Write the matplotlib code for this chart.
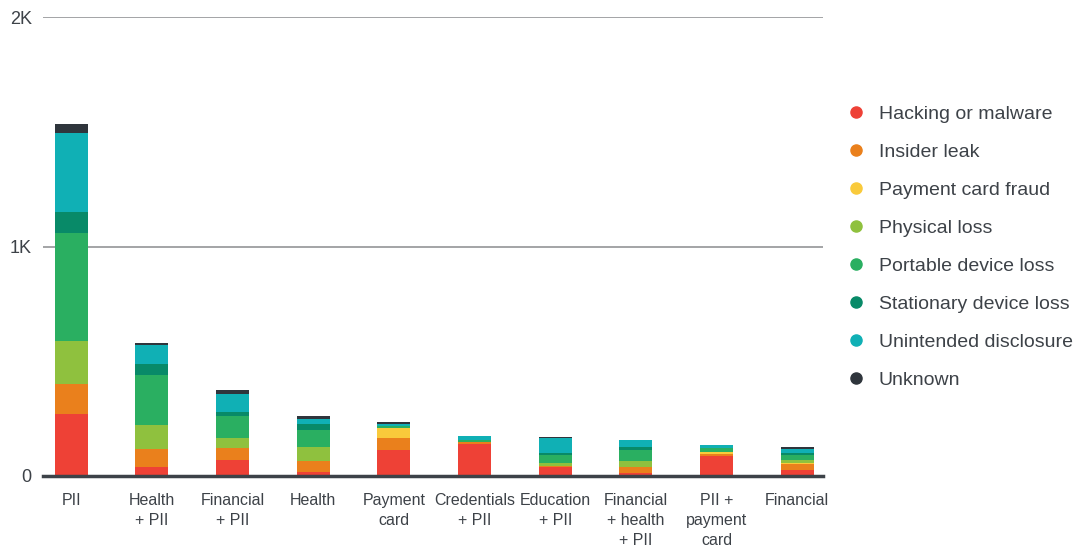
import matplotlib.pyplot as plt
import numpy as np

plt.rcParams['font.family'] = ['Liberation Sans', 'DejaVu Sans']

# breach records per data type, split by breach method
categories = ["PII", "Health\n+ PII", "Financial\n+ PII", "Health", "Payment\ncard",
              "Credentials\n+ PII", "Education\n+ PII", "Financial\n+ health\n+ PII",
              "PII +\npayment\ncard", "Financial"]

hacking = [271, 39, 70, 17, 114, 140, 39, 13, 87, 26]
insider = [131, 79, 52, 49, 52, 6, 4, 26, 9, 26]
card_fraud = [0, 0, 0, 0, 41, 3, 0, 0, 7, 4]
physical = [188, 105, 44, 60, 4, 0, 13, 26, 0, 13]
portable = [467, 218, 96, 74, 7, 6, 35, 48, 17, 22]
stationary = [92, 48, 17, 26, 0, 3, 9, 13, 0, 9]
unintended = [345, 83, 79, 22, 9, 17, 65, 31, 13, 17]
unknown = [39, 9, 17, 13, 9, 0, 4, 0, 0, 9]

series = [
    ("Hacking or malware", hacking, "#ee4136"),
    ("Insider leak", insider, "#ea801c"),
    ("Payment card fraud", card_fraud, "#f9ca3b"),
    ("Physical loss", physical, "#8fc13e"),
    ("Portable device loss", portable, "#2aaf61"),
    ("Stationary device loss", stationary, "#088a68"),
    ("Unintended disclosure", unintended, "#10b0b5"),
    ("Unknown", unknown, "#2f353c"),
]

fig = plt.figure(figsize=(10.82, 5.49), dpi=100)
ax = fig.add_axes([0.0397, 0.133, 0.721, 0.836])

x = np.arange(len(categories))
bottom = np.zeros(len(categories))
for name, vals, color in series:
    ax.bar(x, vals, width=0.41, bottom=bottom, color=color, label=name, zorder=3)
    bottom += np.array(vals)

ax.set_xlim(-0.35, 9.32)
ax.set_ylim(0, 2000)
ax.set_yticks([0, 1000, 2000])
ax.set_yticklabels(["0", "1K", "2K"])
ax.set_xticks(x)
ax.set_xticklabels(categories, linespacing=1.45)

for s in ["top", "right", "left"]:
    ax.spines[s].set_visible(False)
ax.spines["bottom"].set_color("#3d4248")
ax.spines["bottom"].set_linewidth(2.5)
ax.spines["bottom"].set_zorder(4)

ax.grid(axis="y", color="#8a8c8e", linewidth=1.1, zorder=0)
ax.tick_params(axis="both", length=0, labelsize=11.5, colors="#3d4248")
ax.tick_params(axis="x", pad=12)
ax.tick_params(axis="y", pad=8, labelsize=13)

# legend with round markers on the right
handles = [plt.Line2D([], [], marker="o", linestyle="", markersize=8, color=c)
           for _, _, c in series]
fig.legend(handles, [n for n, _, _ in series], loc="upper left",
           bbox_to_anchor=(0.768, 0.84), frameon=False, fontsize=14,
           labelspacing=1.05, handlelength=0.8, handletextpad=0.75,
           labelcolor="#3d4248")

fig.savefig("out.png", dpi=100)
